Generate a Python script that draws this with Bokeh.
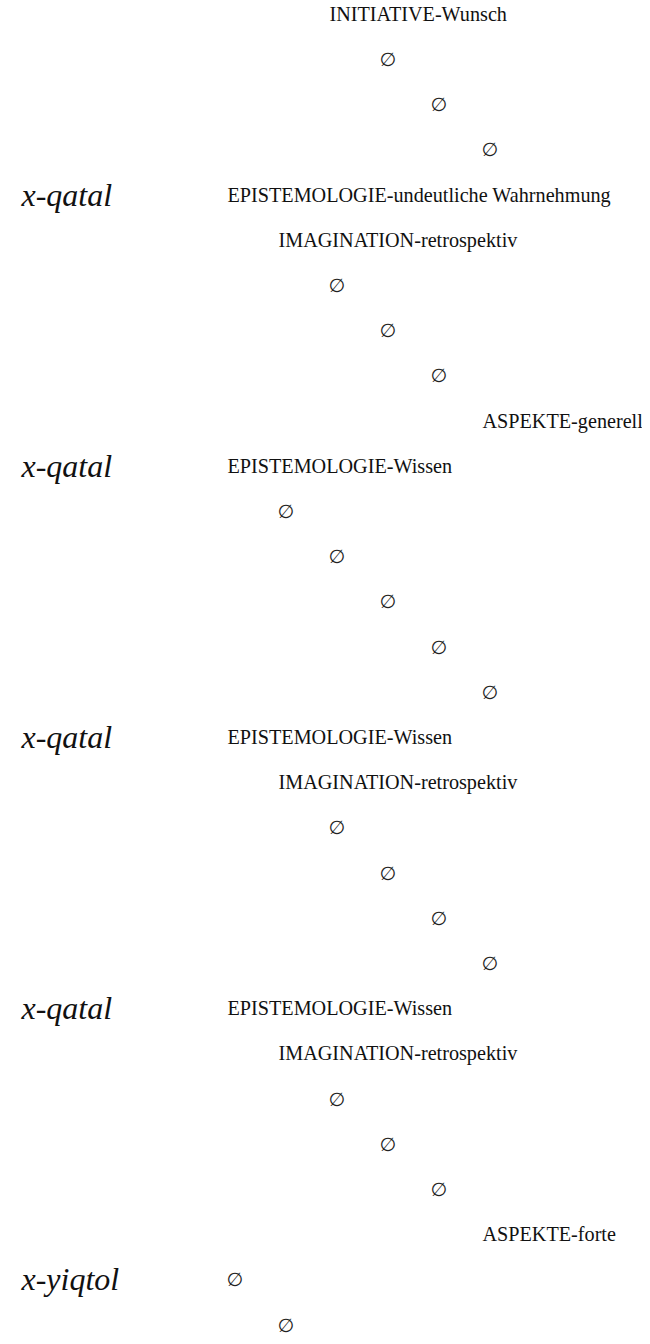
from bokeh.plotting import figure
from bokeh.models import ColumnDataSource, Range1d
from bokeh.core.properties import value
from bokeh.embed import file_html
from bokeh.resources import INLINE

# ---- data -------------------------------------------------------------
# one entry per line of the analysis: indentation level and label
EMPTY = "\u2205"
row_levels = [3, 4, 5, 6,
              1, 2, 3, 4, 5, 6,
              1, 2, 3, 4, 5, 6,
              1, 2, 3, 4, 5, 6,
              1, 2, 3, 4, 5, 6,
              1, 2]
row_labels = ["INITIATIVE-Wunsch", EMPTY, EMPTY, EMPTY,
              "EPISTEMOLOGIE-undeutliche Wahrnehmung", "IMAGINATION-retrospektiv", EMPTY, EMPTY, EMPTY, "ASPEKTE-generell",
              "EPISTEMOLOGIE-Wissen", EMPTY, EMPTY, EMPTY, EMPTY, EMPTY,
              "EPISTEMOLOGIE-Wissen", "IMAGINATION-retrospektiv", EMPTY, EMPTY, EMPTY, EMPTY,
              "EPISTEMOLOGIE-Wissen", "IMAGINATION-retrospektiv", EMPTY, EMPTY, EMPTY, "ASPEKTE-forte",
              EMPTY, EMPTY]
# verb forms at the left margin, and the lines on which they stand
verb_rows = [4, 10, 16, 22, 28]
verb_labels = ["x-qatal", "x-qatal", "x-qatal", "x-qatal", "x-yiqtol"]

# ---- layout -----------------------------------------------------------
W, H = 642, 1336
STEP = 51.0          # px per indentation level
LEVEL1_PX = 227      # px of level 1
ROW0_PX = 13.3
ROW_PX = 45.2
VERB_X = 1 - (LEVEL1_PX - 21) / STEP

rows = list(range(len(row_labels)))
is_empty = [lab == EMPTY for lab in row_labels]

src_txt = ColumnDataSource(dict(
    x=[l for l, e in zip(row_levels, is_empty) if not e],
    y=[r for r, e in zip(rows, is_empty) if not e],
    t=[lab for lab, e in zip(row_labels, is_empty) if not e]))
src_empty = ColumnDataSource(dict(
    x=[l for l, e in zip(row_levels, is_empty) if e],
    y=[r for r, e in zip(rows, is_empty) if e],
    t=[lab for lab, e in zip(row_labels, is_empty) if e]))
src_verb = ColumnDataSource(dict(
    x=[VERB_X] * len(verb_rows), y=verb_rows, t=verb_labels))

p = figure(width=W, height=H, output_backend="svg", toolbar_location=None,
           x_range=Range1d(1 - LEVEL1_PX / STEP, 1 + (W - LEVEL1_PX) / STEP),
           y_range=Range1d((H - ROW0_PX) / ROW_PX, -ROW0_PX / ROW_PX),
           min_border=0)
p.axis.visible = False
p.grid.visible = False
p.outline_line_color = None
p.background_fill_color = "white"
p.border_fill_color = "white"

p.text(x="x", y="y", text="t", source=src_txt,
       text_font=value("Liberation Serif"), text_font_size="20.2px",
       text_color="#111111", text_baseline="middle", text_align="left")
p.text(x="x", y="y", text="t", source=src_empty, x_offset=-1,
       text_font=value("DejaVu Sans"), text_font_size="19px",
       text_color="#222222", text_baseline="middle", text_align="left")
p.text(x="x", y="y", text="t", source=src_verb,
       text_font=value("Liberation Serif"), text_font_style="italic",
       text_font_size="32px", text_color="#111111",
       text_baseline="middle", text_align="left")

open("out.html", "w").write(file_html(p, INLINE))
